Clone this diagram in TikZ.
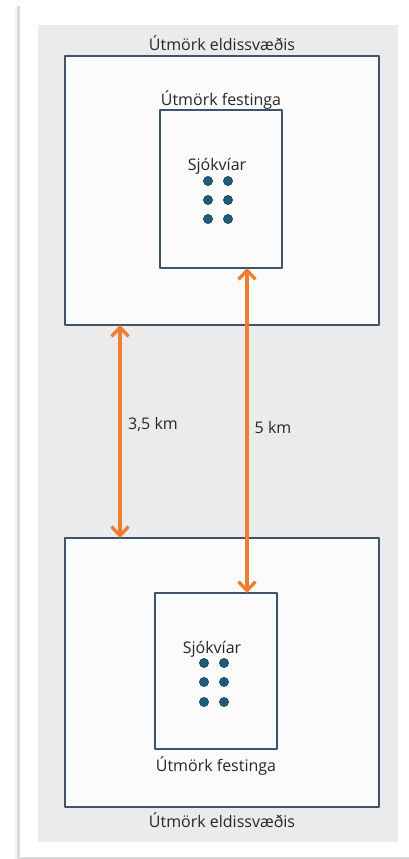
\documentclass[tikz,border=0pt]{standalone}
\usepackage{fontspec}
\setmainfont{Open Sans}
\usetikzlibrary{arrows.meta}
\definecolor{pageback}{HTML}{EBEBEB}
\definecolor{boxline}{HTML}{3F5468}
\definecolor{boxfill}{HTML}{FBFBFB}
\definecolor{cagefill}{HTML}{1F5C7A}
\definecolor{cageline}{HTML}{17445B}
\definecolor{distline}{HTML}{ED7D31}
\definecolor{txt}{HTML}{262626}
\begin{document}
\begin{tikzpicture}[x=1pt,y=-1pt,font=\fontsize{16}{19}\selectfont, text=txt, line join=round,
  zone/.style={draw=boxline, fill=boxfill, line width=1.3pt, inner sep=0pt, outer sep=0pt, anchor=north west},
  dist/.style={draw=distline, line width=3.3pt, {Straight Barb[length=9pt,width=17pt]}-{Straight Barb[length=9pt,width=17pt]}}]
\useasboundingbox (0,0) rectangle (409,859);
% card and its shadow
\fill[black!6] (15,8) rectangle (415,860);
\fill[black!14] (17,6) rectangle (412,859);
\fill[white] (19.5,5) rectangle (415,856.5);
\fill[pageback] (38,25) rectangle (398,842);
% zones
\node[zone, minimum width=314pt, minimum height=269pt] (zoneA) at (65,56) {};
\node[zone, minimum width=122pt, minimum height=158pt] (innerA) at (160,110) {};
\node[zone, minimum width=314pt, minimum height=269pt] (zoneB) at (65,538) {};
\node[zone, minimum width=122pt, minimum height=156pt] (innerB) at (155,593) {};
\node (lblA) at (222,43) {Útmörk eldissvæðis};
\node (lblB) at (222,820) {Útmörk eldissvæðis};
\node (fixA) at (221,100) {Útmörk festinga};
\node (fixB) at (216,766) {Útmörk festinga};
\node (cageA) at (217,166) {Sjókvíar};
\node (cageB) at (212,649) {Sjókvíar};
\foreach \y in {181,200,219}
{\foreach \x in {208,228}
  \draw[fill=cagefill, draw=cageline, line width=0.6pt] (\x,\y) circle (4.6);}
\foreach \y in {663,682,702}
{\foreach \x in {204,224}
  \draw[fill=cagefill, draw=cageline, line width=0.6pt] (\x,\y) circle (4.6);}
% distances
\coordinate (a1) at (120,325);
\coordinate (a2) at (120,538);
\coordinate (b1) at (247,268);
\coordinate (b2) at (247,593);
\draw[dist] (a1)--(a2);
\draw[dist] (b1)--(b2);
\node (d1) at (153,424) {3,5 km};
\node (d2) at (273,427) {5 km};
\end{tikzpicture}
\end{document}
